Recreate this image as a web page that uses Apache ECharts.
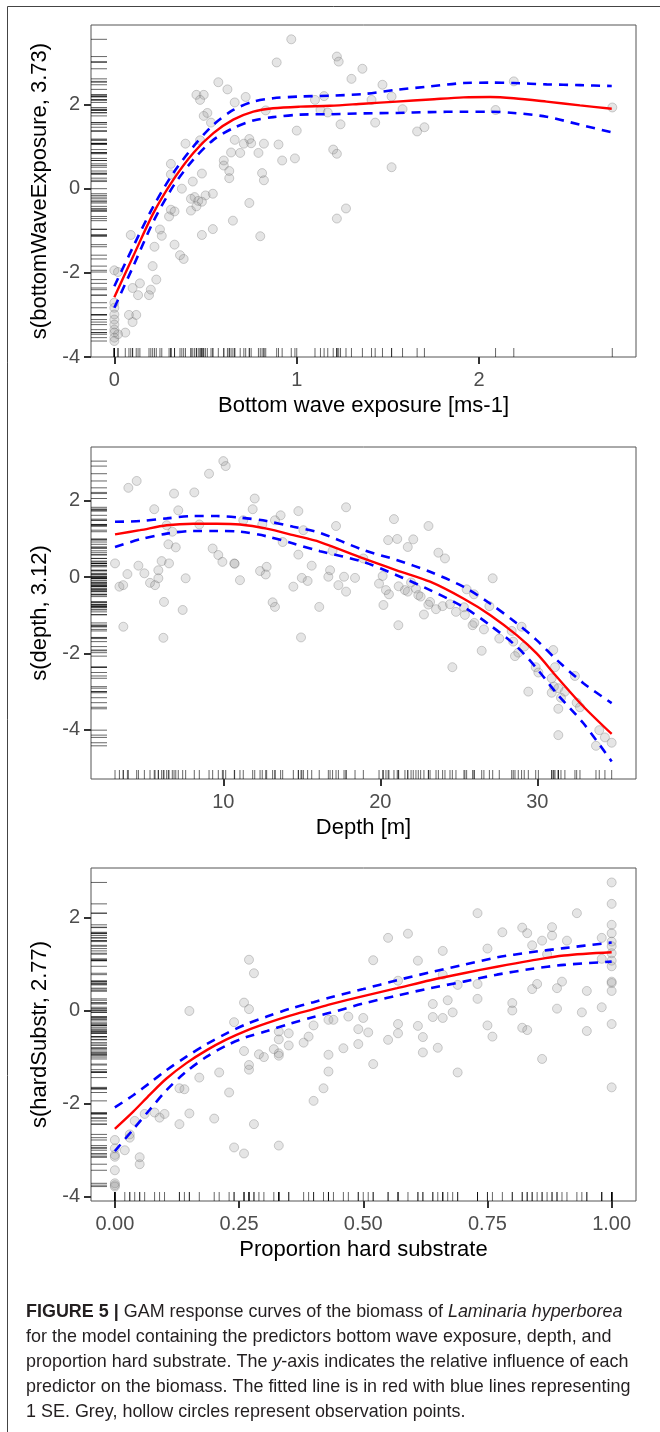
<!DOCTYPE html>
<html>
<head>
<meta charset="utf-8">
<script src="https://cdn.jsdelivr.net/npm/echarts@6/dist/echarts.min.js"></script>
<style>
  html, body { margin: 0; padding: 0; background: #fff; }
  #chart { width: 660px; height: 1432px; }
</style>
</head>
<body>
<div id="chart"></div>
<script>
/* observations [x, partial residual] */
var waveObs = [[0.97,3.55],[0.89,3.0],[0.57,2.53],[0.62,2.36],[0.45,2.23],[0.49,2.23],[0.47,2.11],[0.72,2.18],[0.66,2.05],[0.51,1.80],[0.49,1.73],[0.53,1.57],[0.83,1.86],[1.0,1.38],[0.47,1.15],[0.39,1.07],[0.74,1.18],[0.75,1.08],[0.71,1.07],[0.66,1.16],[0.82,1.07],[0.9,1.05],[0.64,0.86],[0.69,0.85],[0.79,0.85],[0.92,0.67],[0.99,0.72],[0.6,0.67],[0.6,0.55],[0.63,0.42],[0.63,0.25],[0.31,0.59],[0.31,0.34],[0.48,0.36],[0.43,0.17],[0.81,0.37],[0.82,0.2],[0.37,0.0],[0.54,-0.12],[0.5,-0.16],[0.42,-0.24],[0.44,-0.2],[0.46,-0.29],[0.42,-0.52],[0.45,-0.42],[0.48,-0.31],[0.74,-0.34],[0.31,-0.5],[0.33,-0.54],[0.3,-0.66],[0.65,-0.76],[0.54,-0.96],[0.48,-1.1],[0.25,-0.97],[0.26,-1.12],[0.09,-1.1],[0.8,-1.13],[0.33,-1.33],[0.22,-1.38],[0.36,-1.58],[0.38,-1.67],[0.21,-1.84],[0.23,-2.16],[0.14,-2.25],[0.2,-2.4],[0.19,-2.53],[0.1,-2.36],[0.13,-2.53],[0.08,-3.0],[0.12,-3.0],[0.1,-3.17],[0.06,-3.42],[0.02,-3.46],[0.0,-1.94],[0.02,-1.98],[0,-2.71],[0,-2.83],[0,-2.99],[0,-3.11],[0,-3.23],[0,-3.35],[0,-3.42],[0,-3.54],[0,-3.62],[1.1,2.11],[1.15,2.2],[1.13,1.87],[1.17,1.81],[1.22,3.14],[1.23,3.02],[1.36,2.85],[1.3,2.61],[1.47,2.47],[1.52,2.19],[1.41,2.11],[1.58,1.89],[1.24,1.53],[1.43,1.57],[1.66,1.36],[1.7,1.46],[1.2,0.93],[1.22,0.83],[1.52,0.51],[1.27,-0.47],[1.22,-0.71],[2.09,1.87],[2.19,2.55],[2.73,1.93]];
var depthObs = [[3.1,0.36],[3.38,-0.25],[3.62,-0.21],[3.63,-1.3],[3.95,2.34],[4.48,2.52],[3.89,0.08],[4.59,0.3],[4.97,0.1],[5.33,-0.15],[5.65,-0.21],[5.6,1.78],[5.86,0.18],[5.86,-0.03],[6.07,0.42],[6.22,-0.65],[6.18,-1.59],[6.39,1.36],[6.54,0.36],[6.5,0.86],[6.75,1.19],[6.86,2.19],[6.97,0.78],[7.13,1.75],[7.41,-0.86],[7.6,-0.03],[8.15,2.22],[8.47,1.38],[9.09,2.71],[9.32,0.75],[9.68,0.58],[9.94,0.4],[10.0,3.04],[10.15,2.91],[10.7,0.36],[10.72,0.35],[11.06,-0.08],[11.27,1.49],[11.87,1.78],[12.0,2.06],[12.34,0.16],[12.7,0.07],[12.76,0.27],[12.48,1.38],[13.14,-0.66],[13.29,-0.78],[13.29,1.49],[13.65,1.62],[13.78,0.92],[14.46,-0.25],[14.78,1.73],[14.78,0.59],[14.95,-1.58],[15.0,-0.02],[15.37,-0.1],[15.1,1.23],[15.63,0.3],[16.11,-0.78],[16.69,0.01],[16.8,0.18],[17.82,1.83],[17.18,1.34],[16.96,0.69],[17.69,0.01],[18.39,-0.02],[17.33,-0.21],[17.82,-0.38],[18.92,0.49],[20.87,1.52],[20.5,0.97],[21.08,1.0],[21.75,0.79],[22.1,0.99],[23.07,1.34],[20.15,0.03],[19.92,-0.17],[20.36,-0.34],[20.55,-0.45],[20.2,-0.73],[21.15,-1.26],[21.17,-0.24],[21.57,-0.34],[21.75,-0.38],[21.96,-0.14],[22.27,-0.3],[22.42,-0.47],[22.57,-0.51],[23.17,-0.65],[23.06,-0.72],[22.78,-0.98],[23.55,-0.84],[23.97,-0.76],[23.7,0.64],[24.12,0.49],[24.44,-0.71],[24.82,-0.91],[25.33,-0.79],[25.39,-0.99],[24.59,-2.36],[25.5,-0.32],[25.97,-0.45],[25.88,-1.26],[25.99,-1.2],[26.6,-1.37],[26.46,-1.93],[26.95,-0.76],[27.16,-0.03],[27.58,-1.61],[28.37,-1.41],[29.0,-1.3],[28.47,-1.69],[29.17,-1.82],[28.58,-2.07],[28.79,-1.98],[29.43,-3.0],[29.9,-2.36],[30.07,-2.5],[31.02,-1.91],[31.13,-2.36],[30.92,-2.65],[31.06,-2.87],[31.34,-2.91],[30.92,-3.03],[31.51,-3.16],[31.76,-3.0],[31.34,-3.45],[31.34,-4.14],[32.4,-2.59],[32.51,-3.29],[32.72,-3.41],[33.95,-4.01],[34.31,-4.2],[33.74,-4.42],[34.74,-4.34]];
var hardObs = [[0,-2.78],[0,-2.96],[0,-3.1],[0,-3.14],[0,-3.43],[0,-3.71],[0,-3.75],[0,-3.78],[0.02,-3.0],[0.03,-2.66],[0.03,-2.73],[0.04,-2.37],[0.05,-3.3],[0.05,-3.15],[0.06,-2.22],[0.08,-2.19],[0.09,-2.3],[0.1,-2.22],[0.13,-2.44],[0.13,-1.67],[0.14,-1.69],[0.15,-2.21],[0.15,-0.01],[0.17,-1.44],[0.2,-2.32],[0.21,-1.33],[0.23,-1.76],[0.24,-0.25],[0.24,-2.94],[0.26,-3.07],[0.26,0.17],[0.27,0.03],[0.26,-0.87],[0.27,-1.17],[0.27,-1.27],[0.27,1.09],[0.28,0.8],[0.28,-2.44],[0.29,-0.94],[0.3,-1.0],[0.32,-0.83],[0.33,-0.92],[0.33,-0.97],[0.33,-0.62],[0.33,-0.45],[0.35,-0.49],[0.35,-0.75],[0.33,-2.9],[0.38,-0.69],[0.39,-0.56],[0.4,-0.32],[0.4,-1.94],[0.42,-1.67],[0.43,-1.31],[0.43,-0.95],[0.43,-0.2],[0.44,-0.2],[0.47,-0.13],[0.49,-0.4],[0.51,-0.47],[0.5,-0.16],[0.49,-0.72],[0.46,-0.81],[0.52,-1.15],[0.52,1.08],[0.55,1.56],[0.55,-0.63],[0.57,-0.49],[0.57,-0.29],[0.57,0.64],[0.59,1.65],[0.61,1.07],[0.61,-0.33],[0.62,-0.57],[0.62,-0.9],[0.64,0.14],[0.64,-0.14],[0.66,-0.16],[0.65,-0.8],[0.66,1.28],[0.66,0.77],[0.67,0.22],[0.68,-0.04],[0.69,-1.33],[0.69,0.55],[0.73,2.09],[0.73,0.57],[0.73,0.25],[0.75,-0.32],[0.76,-0.56],[0.75,1.33],[0.78,1.68],[0.8,0.16],[0.8,0.0],[0.82,1.78],[0.83,1.66],[0.82,-0.37],[0.83,-0.42],[0.84,1.4],[0.86,1.5],[0.84,0.46],[0.85,0.57],[0.86,-1.04],[0.88,1.79],[0.88,1.61],[0.87,1.21],[0.89,0.48],[0.89,0.04],[0.9,0.62],[0.91,1.5],[0.93,2.09],[0.95,0.42],[0.94,-0.04],[0.95,-0.44],[0.98,0.07],[0.98,1.56],[0.98,1.11],[1,2.75],[1,2.29],[1,1.84],[1,1.66],[1,1.48],[1,1.38],[1,1.23],[1,1.07],[1,0.95],[1,0.62],[1,0.59],[1,0.42],[1,-0.29],[1,-1.65]];

/* fitted smooth and +/- 1 SE */
var waveGrid  = [0,0.104,0.214,0.323,0.433,0.543,0.652,0.762,0.87,1.018,1.183,1.365,1.548,1.73,1.914,2.06,2.19,2.37,2.553,2.727];
var waveFit   = [-2.58,-1.6,-0.58,0.21,0.85,1.32,1.64,1.83,1.91,1.95,1.97,2.02,2.07,2.12,2.17,2.18,2.15,2.07,1.98,1.90];
var waveUpper = [-2.32,-1.37,-0.42,0.37,1.0,1.52,1.87,2.07,2.15,2.19,2.21,2.25,2.35,2.43,2.51,2.52,2.51,2.48,2.46,2.44];
var waveLower = [-2.83,-1.84,-0.78,0.06,0.69,1.16,1.44,1.62,1.70,1.76,1.77,1.79,1.80,1.82,1.83,1.83,1.80,1.71,1.52,1.34];

var depthGrid  = [3.1,4.69,6.39,8.09,9.58,11.06,12.76,14.46,16.16,18.92,21.04,23.17,25.29,26.99,28.69,29.96,31.24,32.94,34.74];
var depthFit   = [1.12,1.23,1.36,1.40,1.40,1.38,1.27,1.10,0.92,0.49,0.18,-0.12,-0.56,-0.99,-1.52,-2.0,-2.61,-3.39,-4.11];
var depthUpper = [1.45,1.47,1.54,1.6,1.6,1.56,1.47,1.32,1.16,0.71,0.45,0.14,-0.25,-0.69,-1.21,-1.65,-2.17,-2.78,-3.3];
var depthLower = [0.79,0.99,1.14,1.21,1.21,1.19,1.07,0.88,0.68,0.40,0.05,-0.34,-0.78,-1.26,-1.82,-2.39,-3.05,-3.83,-4.83];

var hardGrid  = [0,0.037,0.071,0.104,0.144,0.185,0.225,0.265,0.306,0.353,0.4,0.433,0.5,0.568,0.635,0.702,0.769,0.837,0.904,1.0];
var hardFit   = [-2.54,-2.17,-1.8,-1.46,-1.13,-0.85,-0.62,-0.43,-0.27,-0.11,0.03,0.13,0.31,0.48,0.65,0.8,0.94,1.07,1.18,1.25];
var hardUpper = [-2.08,-1.82,-1.55,-1.28,-0.99,-0.72,-0.49,-0.29,-0.13,0.04,0.18,0.28,0.46,0.65,0.82,0.98,1.14,1.25,1.34,1.46];
var hardLower = [-3.02,-2.55,-2.12,-1.71,-1.31,-0.99,-0.75,-0.57,-0.44,-0.28,-0.14,-0.05,0.15,0.32,0.48,0.62,0.77,0.89,0.98,1.05];

/* tick labels */
var waveTicks  = [0, 1, 2];
var depthTicks = [10, 20, 30];
var hardTicks  = [0, 0.25, 0.5, 0.75, 1];
var yTicks     = [-4, -2, 0, 2];

var xNames = ['Bottom wave exposure [ms-1]', 'Depth [m]', 'Proportion hard substrate'];
var yNames = ['s(bottomWaveExposure, 3.73)', 's(depth, 3.12)', 's(hardSubstr, 2.77)'];

var captionLines = [
  '{b|FIGURE 5 |} GAM response curves of the biomass of {i|Laminaria hyperborea}',
  'for the model containing the predictors bottom wave exposure, depth, and',
  'proportion hard substrate. The {i|y}-axis indicates the relative influence of each',
  'predictor on the biomass. The fitted line is in red with blue lines representing',
  '1 SE. Grey, hollow circles represent observation points.'
];

var FONT = 'Liberation Sans, Arial, Helvetica, sans-serif';

var panels = [
  { obs: waveObs, grid: waveGrid, fit: waveFit, up: waveUpper, lo: waveLower, ticks: waveTicks,
    xmin: -0.128, xmax: 2.86, ymin: -4, ymax: 3.89, top: 25, height: 332,
    fmt: function (v) { return String(v); } },
  { obs: depthObs, grid: depthGrid, fit: depthFit, up: depthUpper, lo: depthLower, ticks: depthTicks,
    xmin: 1.57, xmax: 36.29, ymin: -5.29, ymax: 3.41, top: 447, height: 332,
    fmt: function (v) { return String(v); } },
  { obs: hardObs, grid: hardGrid, fit: hardFit, up: hardUpper, lo: hardLower, ticks: hardTicks,
    xmin: -0.048, xmax: 1.049, ymin: -4.09, ymax: 3.06, top: 868, height: 333,
    fmt: function (v) { return v.toFixed(2); } }
];

function zip(xs, ys) {
  var out = [];
  for (var i = 0; i < xs.length; i++) out.push([xs[i], ys[i]]);
  return out;
}

var grids = [], xAxes = [], yAxes = [], series = [];

for (var p = 0; p < panels.length; p++) {
  var P = panels[p];
  grids.push({
    left: 91, right: 24, top: P.top, height: P.height,
    show: true, borderColor: '#555', borderWidth: 1, backgroundColor: 'transparent'
  });
  xAxes.push({
    gridIndex: p, type: 'value', min: P.xmin, max: P.xmax, position: 'bottom',
    name: xNames[p], nameLocation: 'middle', nameGap: 38,
    nameTextStyle: { color: '#000', fontSize: 22, fontFamily: FONT },
    axisLine: { show: false, onZero: false },
    splitLine: { show: false },
    axisTick: { show: true, customValues: P.ticks, length: 7, lineStyle: { color: '#333', width: 2 } },
    axisLabel: { customValues: P.ticks, formatter: P.fmt, color: '#4d4d4d', fontSize: 20, fontFamily: FONT, margin: 13 }
  });
  yAxes.push({
    gridIndex: p, type: 'value', min: P.ymin, max: P.ymax, position: 'left',
    name: yNames[p], nameLocation: 'middle', nameGap: 36,
    nameTextStyle: { color: '#000', fontSize: 22, fontFamily: FONT },
    axisLine: { show: false, onZero: false },
    splitLine: { show: false },
    axisTick: { show: true, customValues: yTicks, length: 7, lineStyle: { color: '#333', width: 2 } },
    axisLabel: { customValues: yTicks, color: '#4d4d4d', fontSize: 20, fontFamily: FONT, margin: 11 }
  });

  // rugs
  series.push({
    type: 'scatter', xAxisIndex: p, yAxisIndex: p, silent: true, clip: false,
    symbol: 'rect', symbolSize: [16, 1], symbolOffset: [8, 0],
    itemStyle: { color: 'rgba(0,0,0,0.75)' },
    data: P.obs.map(function (d) { return [P.xmin, d[1]]; }), z: 3
  });
  series.push({
    type: 'scatter', xAxisIndex: p, yAxisIndex: p, silent: true, clip: false,
    symbol: 'rect', symbolSize: [1, 9], symbolOffset: [0, -4.5],
    itemStyle: { color: 'rgba(0,0,0,0.75)' },
    data: P.obs.map(function (d) { return [d[0], P.ymin]; }), z: 3
  });
  // observations
  series.push({
    type: 'scatter', xAxisIndex: p, yAxisIndex: p, silent: true,
    symbol: 'circle', symbolSize: 9,
    itemStyle: { color: 'rgba(140,140,140,0.28)', borderColor: 'rgba(110,110,110,0.4)', borderWidth: 1 },
    data: P.obs, z: 2
  });
  // SE bands
  [P.up, P.lo].forEach(function (band) {
    series.push({
      type: 'line', xAxisIndex: p, yAxisIndex: p, silent: true, smooth: 0.3,
      showSymbol: false, symbol: 'none',
      lineStyle: { color: '#0000ff', width: 2.6, type: [9, 7] },
      data: zip(P.grid, band), z: 4
    });
  });
  // fit
  series.push({
    type: 'line', xAxisIndex: p, yAxisIndex: p, silent: true, smooth: 0.3,
    showSymbol: false, symbol: 'none',
    lineStyle: { color: '#ff0000', width: 2.4 },
    data: zip(P.grid, P.fit), z: 5
  });
}

var graphics = [{
  type: 'polyline', silent: true,
  shape: { points: [[7.5, 1432], [7.5, 6.5], [660, 6.5]] },
  style: { stroke: '#444', lineWidth: 1, fill: null }
}];
var lineY = [1312, 1337, 1362, 1387, 1412];
for (var k = 0; k < captionLines.length; k++) {
  graphics.push({
    type: 'text', x: 26, y: lineY[k], scaleX: 0.97, silent: true,
    style: {
      text: captionLines[k], fill: '#231f20', fontSize: 18.5, fontFamily: FONT,
      verticalAlign: 'middle',
      rich: {
        b: { fontWeight: 'bold', fontSize: 18.5, fontFamily: FONT, fill: '#231f20' },
        i: { fontStyle: 'italic', fontSize: 18.5, fontFamily: FONT, fill: '#231f20' }
      }
    }
  });
}

var chart = echarts.init(document.getElementById('chart'));
chart.setOption({
  animation: false,
  backgroundColor: '#fff',
  grid: grids,
  xAxis: xAxes,
  yAxis: yAxes,
  series: series,
  graphic: graphics
});
</script>
</body>
</html>
